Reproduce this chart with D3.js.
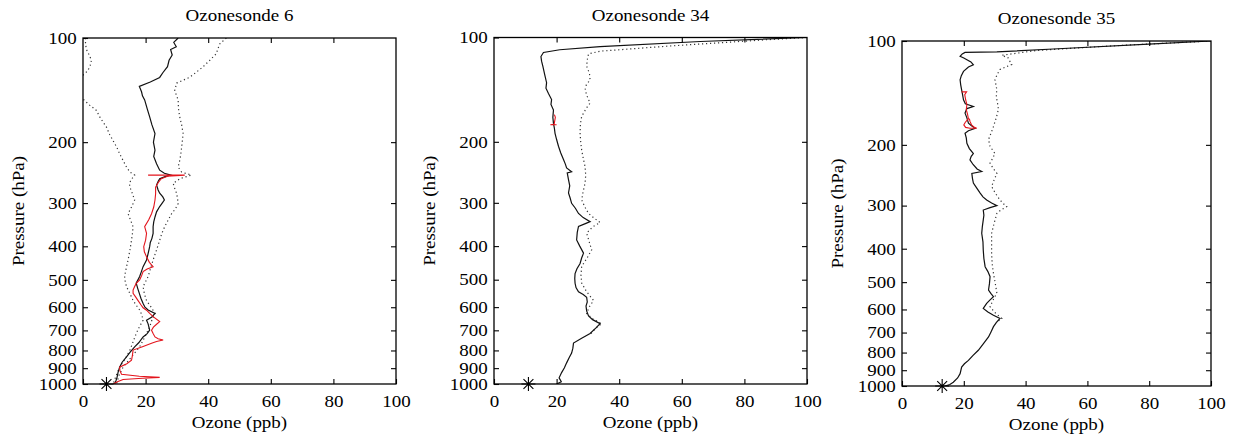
<!DOCTYPE html>
<html>
<head>
<meta charset="utf-8">
<script src="https://cdn.jsdelivr.net/npm/d3@7"></script>
<style>
  body { margin: 0; background: #fff; }
  svg { display: block; }
</style>
</head>
<body>
<svg id="chart" width="1233" height="438"></svg>
<script>
// ===== Data: [pressure hPa, ozone ppb] =====
const xTicks = [0, 20, 40, 60, 80, 100];
const yTicks = [100, 200, 300, 400, 500, 600, 700, 800, 900, 1000];
const titles = ['Ozonesonde 6', 'Ozonesonde 34', 'Ozonesonde 35'];
const surfaceOzone = [7.5, 11, 13]; // asterisk at 1000 hPa

const sonde6Solid = [[100,30.4],[103,29],[106,29.8],[108,28],[112,28.5],[116,27.5],[121,27],[126,25.5],[130,24.5],[134,21.5],[138,18],[143,18.7],[147,19],[151,19.7],[160,20.5],[169,21.3],[178,22],[189,23],[200,22.5],[211,23],[220,22.6],[231,23.5],[241,24.5],[246,26],[249,28],[252,26],[255,24.5],[260,24],[266,23.5],[275,24],[281,24.5],[288,25.5],[294,26],[300,25.3],[307,24.5],[318,23.5],[329,23],[340,22.6],[351,22.4],[367,22.4],[380,22],[390,21.5],[401,21.3],[420,20.8],[438,20.3],[458,19.2],[475,18.6],[489,18.1],[511,17],[530,17.5],[547,18],[565,18.5],[585,19.2],[600,19.8],[611,20.8],[625,23],[640,22],[654,20.3],[670,20.8],[699,21.3],[715,20.5],[731,19.2],[760,17.8],[781,16.5],[810,15],[835,13.9],[865,12.5],[894,11.7],[925,11.2],[955,10.9],[980,10.5],[1000,10.1]];
const sonde6DotLeft = [[100,0.8],[104,0.8],[108,1.1],[112,2],[116,2.7],[120,2.3],[124,1.6],[127,0.5],[130,-1],[145,-1],[151,0.3],[156,2],[162,4.3],[170,5.5],[181,7.5],[190,8.5],[198,9.6],[207,10.8],[216,11.7],[226,12.8],[236,13.9],[244,15],[249,16.5],[256,15.5],[263,14.8],[270,15],[282,15.8],[294,16.5],[308,15.5],[322,14.4],[336,15.2],[351,16],[367,15.8],[384,15.5],[410,15],[438,14.4],[463,13.8],[489,13.3],[506,13.5],[523,13.9],[548,15],[574,16],[592,17],[611,18.1],[632,18.8],[654,19.2],[684,18],[715,17],[755,16],[798,15],[845,13.5],[894,11.7],[945,10.6],[1000,9.6]];
const sonde6DotRight = [[100,45.8],[104,43.7],[108,43],[111,42.6],[116,40.5],[121,38.4],[126,36],[130,34],[133,31.5],[135,29.9],[142,29.3],[151,30.4],[160,30.5],[169,30.9],[178,31.5],[189,32],[200,31.7],[211,31.4],[224,31],[236,30.4],[244,31.5],[249,34.6],[255,31],[263,28.8],[272,29.3],[281,29.9],[291,30.2],[301,30.4],[312,29.5],[322,28.3],[336,27.2],[351,26.1],[367,25.2],[384,24.5],[410,23.5],[438,22.4],[463,21.6],[489,20.8],[506,20],[523,19.2],[548,19.6],[574,20.3],[600,21.8],[625,23],[654,22],[684,21.3],[730,19.8],[781,18.1],[835,15.5],[894,12.8],[945,11.5],[1000,10.7]];
const sonde6Red = [[249,20.8],[249,32.5],[251,27],[255,25],[262,24],[270,23.2],[282,23.2],[294,23],[308,22.6],[322,21.9],[335,21],[351,19.7],[367,20.3],[384,20],[401,19.4],[415,19.6],[429,20.3],[445,21.2],[458,22.4],[465,20.5],[473,19.2],[487,18.7],[500,18.1],[512,17],[523,16.5],[535,16],[547,16],[560,16.8],[574,17.6],[590,18.5],[602,19.2],[612,20.3],[625,21.3],[640,22.5],[660,24.5],[672,23.5],[685,22.5],[699,21.9],[715,22.4],[731,23],[740,24],[746,25.6],[754,23.5],[762,21.9],[780,19],[798,16],[825,15.8],[854,15.5],[874,14],[894,11.7],[915,11.8],[937,12.3],[950,18],[957,24.5],[962,19],[970,12.8],[985,11],[1000,9.6]];

const sonde34Solid = [[100,100],[102.7,65.9],[106.2,33.9],[108.5,21],[110.5,15.8],[113.5,15],[117,15.2],[121,15.6],[128,16.2],[135,16.8],[140,16.6],[145,17.4],[151,18.4],[156,18.2],[162,19],[170,18.8],[177,19],[183,19.3],[189,19.5],[197,20],[206,20.6],[215,21.3],[225,22.2],[232,22.8],[238,23.2],[244,24.8],[246,23.4],[257,23.8],[268,24.2],[281,23.8],[290,24.3],[301,24.8],[311,26],[322,27],[331,28.5],[340,30.7],[345,29],[351,27],[365,26.6],[384,26.4],[400,27.4],[419,28.6],[433,28],[449,27.5],[465,26.5],[480,25.9],[496,25.8],[512,25.9],[527,26.2],[542,27],[552,28.5],[562,29.6],[580,29.8],[596,29.4],[615,29.6],[636,30.2],[652,31.5],[670,33.9],[690,32.5],[715,30.7],[738,28],[762,25.4],[788,25.2],[814,24.8],[840,24],[869,23.2],[898,22.5],[927,21.6],[960,20.8],[985,21.5],[1000,20]];
const sonde34Dot = [[100,100],[101.5,87],[106,55],[109.5,34],[111.5,30.2],[116,29.8],[121,29.6],[127,30.5],[132.5,30.7],[137,29.5],[141.6,29.1],[148,29.8],[154.7,30.7],[160,29.5],[169,28],[178,27.6],[189,27.5],[200,27.7],[211,28],[223,28.5],[236,29.1],[250,29.3],[263,29.1],[278,28.5],[294,28],[308,29],[322,30.2],[332,32],[342,33.9],[352,31.5],[367,29.6],[388,30.4],[410,31.2],[432,29.8],[458,28],[485,27.8],[511,28],[540,29.5],[574,31.8],[598,30.5],[625,29.6],[648,31.5],[670,34.4],[690,32.5],[715,31]];
const sonde34Red = [[167,19.3],[170,19.6],[174,19.4],[178,19.2],[178.5,18],[178.5,20]];

const sonde35Solid = [[100,100],[102,81.4],[105.5,49],[107.5,30.7],[107.9,20.4],[109,19.5],[110.8,18.8],[112,20],[113.3,21],[115,22.3],[117.2,23.1],[119,21.5],[122.5,19.9],[126,19.2],[129.5,18.8],[134,19],[138.5,19.3],[143,19.6],[148,19.9],[152,20.5],[154.8,23.1],[157,21],[161.8,20.4],[167,21],[173,21.5],[176,22.5],[179,23.7],[182,21.5],[185,20.4],[191,20.8],[198,21],[205,21.8],[212,23.1],[216,22.4],[221,22],[228,23],[235,24.3],[239,25.8],[242,22.6],[250,22.8],[258,23.1],[267,24.2],[276,25.3],[283,26.2],[289,27.4],[295,29],[300,30.7],[304,28.5],[309,26.3],[320,26.5],[330,26.3],[345,26],[361,25.8],[382,26.2],[404,26.3],[427,26.5],[451,26.9],[466,27.8],[482,28.5],[505,28.3],[527,28],[540,28.8],[551,29.6],[563,28.5],[576,27.4],[596,26.3],[610,27.8],[624,29.6],[637,31.7],[655,30.5],[673,29.6],[697,28.8],[721,28],[755,26.3],[788,24.7],[815,23],[843,21.5],[862,20.2],[881,19.3],[921,18.8],[948,18],[975,16.6],[990,15.5],[1000,13.9]];
const sonde35Dot = [[100,100],[103,70.6],[106.5,43.6],[110,32.3],[112,34.4],[115,35],[117,35.5],[119,33.5],[121,31.7],[125,30.8],[129.5,30.1],[134,30.4],[138.5,30.7],[143,30.5],[148,30.7],[153,31],[158,31.2],[167,30.5],[177,29.6],[185,28.8],[193,28],[202,28.5],[212,30.1],[219,29.3],[226,28.5],[234,29.5],[242,30.7],[253,29.8],[264,29],[276,30.2],[289,31.7],[296,32.8],[302,33.9],[309,32],[316,30.7],[338,29.8],[361,29],[387,29],[414,29],[443,29.2],[472,29.6],[505,30.2],[538,30.7],[563,29.5],[589,28.5],[612,30],[637,32.3],[650,31]];
const sonde35Red = [[140.4,19.3],[140.4,20.9],[143,20.3],[148,20.6],[153,21],[158,20.8],[163,21.2],[168,21.5],[172,20.5],[175,20],[178,20.6],[179,22],[179,24.2],[178,23.4],[175,22.5],[171,22],[168,21.8]];

// ===== Layout =====
const panels = [
  { box: [83, 396, 38, 384],    solid: sonde6Solid,  dotted: [sonde6DotLeft, sonde6DotRight], red: sonde6Red },
  { box: [494, 807, 37.5, 384], solid: sonde34Solid, dotted: [sonde34Dot], red: sonde34Red },
  { box: [902, 1211, 41, 386],  solid: sonde35Solid, dotted: [sonde35Dot], red: sonde35Red }
];

const svg = d3.select('#chart');
const serif = '"Liberation Serif"';
const fontSize = 16.5;
const stretch = 1.15; // reference text is a little wide

// MATLAB-style '*' marker: plus + cross
function asteriskPath(r) {
  const d = r * Math.SQRT1_2;
  return `M${-r},0L${r},0M0,${-r}L0,${r}M${-d},${-d}L${d},${d}M${-d},${d}L${d},${-d}`;
}

function label(g, tx, ty, rot, str) {
  g.append('text')
    .attr('transform', `translate(${tx},${ty})${rot ? ' rotate(-90)' : ''} scale(${stretch},1)`)
    .attr('text-anchor', 'middle')
    .attr('font-family', serif)
    .attr('font-size', fontSize)
    .attr('fill', '#000')
    .text(str);
}

panels.forEach((p, i) => {
  const [left, right, top, bottom] = p.box;
  const x = d3.scaleLinear().domain([0, 100]).range([left, right]);
  const y = d3.scaleLog().domain([100, 1000]).range([top, bottom]);
  const g = svg.append('g');

  g.append('clipPath').attr('id', 'clip' + i)
    .append('rect')
    .attr('x', left).attr('y', top)
    .attr('width', right - left).attr('height', bottom - top);

  const line = d3.line().x(d => x(d[1])).y(d => y(d[0]));
  const plot = g.append('g').attr('clip-path', `url(#clip${i})`);

  p.dotted.forEach(series => {
    plot.append('path')
      .datum(series)
      .attr('d', line)
      .attr('fill', 'none')
      .attr('stroke', '#333')
      .attr('stroke-width', 1.2)
      .attr('stroke-dasharray', '1.2,2.8');
  });

  plot.append('path')
    .datum(p.solid)
    .attr('d', line)
    .attr('fill', 'none')
    .attr('stroke', '#111')
    .attr('stroke-width', 1.2);

  plot.append('path')
    .datum(p.red)
    .attr('d', line)
    .attr('fill', 'none')
    .attr('stroke', '#e3141c')
    .attr('stroke-width', 1.1);

  // axes with inward ticks
  const styleAxis = sel => {
    sel.select('.domain').remove();
    sel.attr('font-family', serif).attr('font-size', fontSize);
    sel.selectAll('.tick line').attr('stroke', '#000').attr('stroke-width', 1.1);
    sel.selectAll('.tick text').attr('fill', '#000');
  };

  g.append('g')
    .attr('transform', `translate(0,${bottom})`)
    .call(d3.axisBottom(x).tickValues(xTicks).tickSize(-5).tickSizeOuter(0).tickPadding(11))
    .call(styleAxis)
    .selectAll('.tick text').attr('transform', `scale(${stretch},1)`);

  g.append('g')
    .attr('transform', `translate(0,${top})`)
    .call(d3.axisTop(x).tickValues(xTicks.slice(1, -1)).tickSize(-5).tickSizeOuter(0).tickFormat(''))
    .call(styleAxis);

  g.append('g')
    .attr('transform', `translate(${left},0)`)
    .call(d3.axisLeft(y).tickValues(yTicks).tickFormat(d3.format('d')).tickSize(-5).tickSizeOuter(0).tickPadding(5.5))
    .call(styleAxis)
    .selectAll('.tick text').attr('transform', `scale(${stretch},1)`);

  g.append('g')
    .attr('transform', `translate(${right},0)`)
    .call(d3.axisRight(y).tickValues(yTicks.slice(1, -1)).tickSize(-5).tickSizeOuter(0).tickFormat(''))
    .call(styleAxis);

  g.append('rect')
    .attr('x', left).attr('y', top)
    .attr('width', right - left).attr('height', bottom - top)
    .attr('fill', 'none')
    .attr('stroke', '#000')
    .attr('stroke-width', 1.3);

  g.append('path')
    .attr('transform', `translate(${x(surfaceOzone[i])},${y(1000)})`)
    .attr('d', asteriskPath(7))
    .attr('stroke', '#000')
    .attr('stroke-width', 1.1)
    .attr('fill', 'none');

  label(g, (left + right) / 2, top - 17, false, titles[i]);
  label(g, (left + right) / 2, bottom + 44, false, 'Ozone (ppb)');
  label(g, left - 59, (top + bottom) / 2, true, 'Pressure (hPa)');
});
</script>
</body>
</html>
